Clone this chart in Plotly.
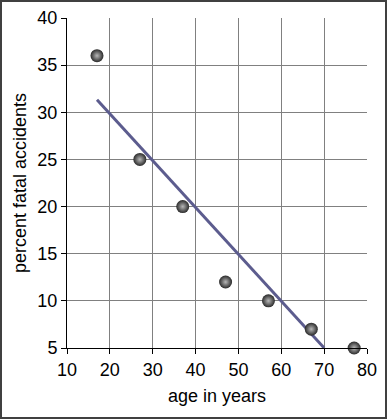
import numpy as np
import plotly.graph_objects as go

age = [17, 27, 37, 47, 57, 67, 77]
percent_fatal = [36, 25, 20, 12, 10, 7, 5]
x_ticks = [10, 20, 30, 40, 50, 60, 70, 80]
y_ticks = [5, 10, 15, 20, 25, 30, 35, 40]
fit_range = [17, 70]

slope, intercept = np.polyfit(age, percent_fatal, 1)
fit_x = np.array(fit_range, dtype=float)
fit_y = slope * fit_x + intercept

W, H = 387, 419
L, R, T, B = 67, 20, 18, 71
pw, ph = W - L - R, H - T - B

fig = go.Figure()
fig.add_trace(go.Scatter(x=fit_x, y=fit_y, mode="lines",
                         line=dict(color="#5c5c8e", width=3), hoverinfo="skip"))
fig.add_trace(go.Scatter(x=age, y=percent_fatal, mode="markers",
                         marker=dict(size=13, color="#2a2a2a",
                                     gradient=dict(type="radial", color="#b8b8b8"),
                                     line=dict(width=0)),
                         cliponaxis=False))

font = "Liberation Sans, Arial, sans-serif"
fig.update_layout(
    width=W, height=H,
    margin=dict(l=L, r=R, t=T, b=B, autoexpand=False),
    paper_bgcolor="white", plot_bgcolor="white",
    showlegend=False,
    hovermode=False,
    font=dict(family=font, size=18, color="black"),
    xaxis=dict(range=[10, 80], tickvals=x_ticks, showgrid=True, gridcolor="#808080",
               gridwidth=1, showline=True, linecolor="black", linewidth=1,
               ticks="outside", ticklen=5, tickcolor="black", zeroline=False,
               automargin=False,
               title=dict(text="age in years", font=dict(size=18), standoff=10),
               tickfont=dict(size=18)),
    yaxis=dict(range=[5, 40], tickvals=y_ticks, showgrid=True, gridcolor="#808080",
               gridwidth=1, showline=True, linecolor="black", linewidth=1,
               ticks="outside", ticklen=5, tickcolor="black", zeroline=False,
               automargin=False,
               title=dict(text="percent fatal accidents", font=dict(size=18), standoff=6),
               tickfont=dict(size=18)),
    shapes=[dict(type="rect", xref="paper", yref="paper",
                 x0=(1 - L) / pw, x1=(W - 1 - L) / pw,
                 y0=((H - B) - (H - 1)) / ph, y1=((H - B) - 1) / ph,
                 line=dict(color="#404040", width=2), fillcolor="rgba(0,0,0,0)",
                 layer="above")],
)

fig.write_html("out.html", config={"displayModeBar": False, "staticPlot": True},
               post_script="document.body.style.margin='0';document.body.style.overflow='hidden';")
